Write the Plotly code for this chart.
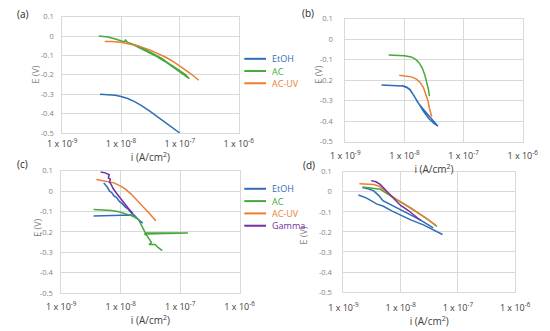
import plotly.graph_objects as go

# ---------------- data ----------------
# Panel (a)
a_etoh_i = [4.4e-9, 6e-9, 8e-9, 1e-8, 1.3e-8, 1.7e-8, 2.2e-8, 3e-8, 4e-8, 5.5e-8, 7e-8, 1e-7]
a_etoh_E = [-0.300, -0.301, -0.305, -0.312, -0.322, -0.338, -0.357, -0.385, -0.413, -0.445, -0.470, -0.500]
a_ac_i = [4.2e-9, 6e-9, 8e-9, 1e-8, 1.15e-8, 1.2e-8, 1.3e-8, 1.5e-8, 2e-8, 3e-8, 4e-8, 5.5e-8, 7e-8, 1e-7, 1.45e-7,
          1.23e-7, 9e-8, 7e-8, 5e-8, 3.5e-8, 2.5e-8, 2e-8, 1.6e-8, 1.3e-8, 1.15e-8, 1.25e-8]
a_ac_E = [0.000, -0.005, -0.015, -0.024, -0.030, -0.022, -0.033, -0.040, -0.058, -0.083, -0.105, -0.130, -0.152, -0.185, -0.220,
          -0.198, -0.172, -0.148, -0.116, -0.088, -0.066, -0.053, -0.043, -0.033, -0.020, -0.028]
a_acuv_i = [5.3e-9, 7e-9, 1e-8, 1.5e-8, 2e-8, 3e-8, 4e-8, 6e-8, 8e-8, 1e-7, 1.5e-7, 2.1e-7]
a_acuv_E = [-0.028, -0.028, -0.032, -0.042, -0.052, -0.070, -0.087, -0.112, -0.135, -0.155, -0.192, -0.228]

# Panel (b)
b_etoh_i = [4.1e-9, 6e-9, 9.1e-9, 1.1e-8, 1.23e-8, 1.45e-8, 1.66e-8, 2e-8, 2.4e-8, 3e-8, 3.7e-8,
            3.2e-8, 2.6e-8, 2.1e-8, 1.7e-8, 1.42e-8, 1.25e-8, 1.08e-8, 9e-9]
b_etoh_E = [-0.223, -0.224, -0.228, -0.236, -0.246, -0.275, -0.306, -0.336, -0.361, -0.395, -0.424,
            -0.412, -0.388, -0.352, -0.310, -0.270, -0.246, -0.233, -0.226]
b_ac_i = [5.4e-9, 7e-9, 1e-8, 1.3e-8, 1.57e-8, 1.8e-8, 2e-8, 2.2e-8, 2.4e-8, 2.55e-8, 2.65e-8]
b_ac_E = [-0.078, -0.079, -0.081, -0.087, -0.100, -0.118, -0.141, -0.172, -0.212, -0.245, -0.278]
b_acuv_i = [8.2e-9, 1e-8, 1.3e-8, 1.6e-8, 1.86e-8, 2.1e-8, 2.3e-8, 2.5e-8, 2.65e-8, 2.9e-8]
b_acuv_E = [-0.176, -0.178, -0.184, -0.195, -0.212, -0.236, -0.266, -0.300, -0.338, -0.377]

# Panel (c)
c_etoh_i = [3.5e-9, 6e-9, 1e-8, 1.5e-8, 1.9e-8, 2.35e-8, 2e-8, 1.7e-8, 1.5e-8, 1.3e-8, 1.2e-8, 1.05e-8,
            9.5e-9, 8.5e-9, 7.8e-9, 7e-9, 6.5e-9, 6e-9, 5.5e-9, 5.2e-9]
c_etoh_E = [-0.122, -0.121, -0.119, -0.117, -0.135, -0.157, -0.140, -0.118, -0.105, -0.085, -0.078, -0.060,
            -0.050, -0.030, -0.025, -0.005, 0.000, 0.018, 0.030, 0.041]
c_ac_i = [3.5e-9, 5e-9, 7e-9, 9.3e-9, 1.2e-8, 1.5e-8, 1.7e-8, 2e-8, 2.2e-8, 2.4e-8, 2.6e-8, 1.35e-7,
          2.5e-8, 2.8e-8, 3e-8, 3.3e-8, 3.0e-8, 3.8e-8, 4.2e-8, 5e-8]
c_ac_E = [-0.090, -0.091, -0.095, -0.101, -0.110, -0.118, -0.125, -0.140, -0.165, -0.185, -0.205, -0.205,
          -0.210, -0.220, -0.235, -0.252, -0.262, -0.262, -0.275, -0.292]
c_acuv_i = [3.9e-9, 5.5e-9, 7.7e-9, 1e-8, 1.2e-8, 1.5e-8, 1.9e-8, 2.46e-8, 3.1e-8, 3.9e-8]
c_acuv_E = [0.057, 0.050, 0.041, 0.025, 0.010, -0.014, -0.045, -0.078, -0.112, -0.145]
c_gamma_i = [4.6e-9, 5.5e-9, 6.4e-9, 6.2e-9, 6.7e-9, 6.5e-9, 6.9e-9, 7.5e-9, 8.7e-9, 1e-8, 1.17e-8, 1.35e-8, 1.6e-8]
c_gamma_E = [0.094, 0.090, 0.081, 0.065, 0.058, 0.045, 0.033, 0.012, -0.014, -0.038, -0.062, -0.085, -0.110]

# Panel (d)
d_etoh_i = [1.83e-9, 2.5e-9, 3.8e-9, 5e-9, 7e-9, 1e-8, 1.5e-8, 2.5e-8, 4e-8, 5.4e-8, None,
            2.15e-9, 2.7e-9, 3.4e-9, 4.2e-9, 4.9e-9, 6.5e-9, 9e-9, 1.4e-8, 2.2e-8, 3.7e-8]
d_etoh_E = [-0.016, -0.030, -0.060, -0.072, -0.095, -0.118, -0.140, -0.165, -0.195, -0.213, None,
            0.021, 0.015, 0.005, -0.020, -0.044, -0.062, -0.085, -0.110, -0.140, -0.180]
d_ac_i = [2.15e-9, 3e-9, 4.4e-9, 5.5e-9, 7.2e-9, 1e-8, 1.5e-8, 2.2e-8, 3e-8, 4.3e-8]
d_ac_E = [0.024, 0.020, 0.013, -0.005, -0.027, -0.050, -0.080, -0.110, -0.138, -0.172]
d_acuv_i = [1.9e-9, 2.6e-9, 3.4e-9, 4.2e-9, 4.9e-9, 6.5e-9, 8.1e-9, 1.2e-8, 1.8e-8, 2.7e-8, 4e-8]
d_acuv_E = [0.040, 0.040, 0.037, 0.028, 0.013, -0.010, -0.035, -0.065, -0.095, -0.128, -0.165]
d_gamma_i = [3.05e-9, 3.7e-9, 4.4e-9, 5e-9, 5.6e-9, 6.8e-9, 8.1e-9, 1e-8, 1.35e-8, 1.8e-8, 2.24e-8]
d_gamma_E = [0.056, 0.050, 0.037, 0.022, 0.005, -0.020, -0.044, -0.068, -0.092, -0.120, -0.143]

legend_ab = ["EtOH", "AC", "AC-UV"]
legend_cd = ["EtOH", "AC", "AC-UV", "Gamma"]
colors = {"EtOH": "#2E6DB8", "AC": "#45A83A", "AC-UV": "#ED7D31", "Gamma": "#7030A0"}

x_tickvals = [1e-9, 1e-8, 1e-7, 1e-6]
x_ticktext = ["1 x 10<sup>-9</sup>", "1 x 10<sup>-8</sup>", "1 x 10<sup>-7</sup>", "1 x 10<sup>-6</sup>"]
y_tickvals = [0.1, 0.0, -0.1, -0.2, -0.3, -0.4, -0.5]
y_ticktext = ["0.1", "0", "-0.1", "-0.2", "-0.3", "-0.4", "-0.5"]
panel_labels = ["(a)", "(b)", "(c)", "(d)"]
x_title = "i (A/cm<sup>2</sup>)"
y_title = "E (V)"

# ---------------- figure ----------------
W, H = 550, 331
FONT = "Open Sans, Liberation Sans, sans-serif"
fig = go.Figure()

panels = [
    ("x", "y", [("EtOH", a_etoh_i, a_etoh_E), ("AC", a_ac_i, a_ac_E), ("AC-UV", a_acuv_i, a_acuv_E)]),
    ("x2", "y2", [("EtOH", b_etoh_i, b_etoh_E), ("AC", b_ac_i, b_ac_E), ("AC-UV", b_acuv_i, b_acuv_E)]),
    ("x3", "y3", [("EtOH", c_etoh_i, c_etoh_E), ("AC", c_ac_i, c_ac_E), ("AC-UV", c_acuv_i, c_acuv_E),
                  ("Gamma", c_gamma_i, c_gamma_E)]),
    ("x4", "y4", [("EtOH", d_etoh_i, d_etoh_E), ("AC", d_ac_i, d_ac_E), ("AC-UV", d_acuv_i, d_acuv_E),
                  ("Gamma", d_gamma_i, d_gamma_E)]),
]

for xa, ya, traces in panels:
    for name, xs, ys in traces:
        fig.add_trace(go.Scatter(
            x=xs, y=ys, mode="lines", name=name, xaxis=xa, yaxis=ya,
            line=dict(color=colors[name], width=1.5),
            connectgaps=False, showlegend=False,
        ))

# pixel domains: (left, right, top, bottom)
px_domains = [(50, 237, 12, 132), (350, 538, 14, 141), (49, 238, 171, 297), (348, 530, 172, 296)]
ytick_standoff = [6, 10, 6, 9]
xtick_standoff = [2, 5, 5, 7]
ytitle_pos = [(22, 72), (322, 72), (23, 230), (306, 238)]

grid = "#D9D9D9"
tickfont = dict(family=FONT, size=7.5, color="#7F7F7F")
xtickfont = dict(family=FONT, size=9, color="#404040")
layout = {}
for k, (l, r, t, b) in enumerate(px_domains):
    sx = "" if k == 0 else str(k + 1)
    layout["xaxis" + sx] = dict(
        type="log", range=[-9, -6], domain=[l / W, r / W], anchor="y" + sx,
        tickvals=x_tickvals, ticktext=x_ticktext, tickfont=xtickfont,
        showgrid=True, gridcolor=grid, gridwidth=1, zeroline=False,
        showline=True, linecolor=grid, mirror=True, ticks="",
        ticklabelstandoff=xtick_standoff[k],
        title=dict(text=x_title, standoff=1,
                   font=dict(family=FONT, size=10, color="#404040")),
    )
    layout["yaxis" + sx] = dict(
        range=[-0.5, 0.1], domain=[1 - b / H, 1 - t / H], anchor="x" + sx,
        tickvals=y_tickvals, ticktext=y_ticktext, tickfont=tickfont,
        showgrid=True, gridcolor=grid, gridwidth=1, zeroline=False,
        showline=True, linecolor=grid, mirror=True, ticks="",
        ticklabelstandoff=ytick_standoff[k],
    )

fig.update_layout(
    width=W, height=H,
    margin=dict(l=0, r=0, t=0, b=0),
    paper_bgcolor="white", plot_bgcolor="white",
    showlegend=False,
    **layout,
)

# y-axis titles (placed like the Excel originals)
for (px, py) in ytitle_pos:
    fig.add_annotation(text=y_title, x=px / W, y=1 - py / H, xref="paper", yref="paper",
                       showarrow=False, textangle=-90, xanchor="center", yanchor="middle",
                       font=dict(family=FONT, size=9, color="#7F7F7F"))

# manual legends (Excel style: coloured text, tight spacing)
legend_blocks = [(legend_ab, 55.5, 12.6), (legend_cd, 189.5, 12.7)]
for names, y0, dy in legend_blocks:
    for j, name in enumerate(names):
        yy = 1 - (y0 + j * dy) / H
        fig.add_shape(type="line", xref="paper", yref="paper",
                      x0=243 / W, x1=266 / W, y0=yy, y1=yy,
                      line=dict(color=colors[name], width=2))
        fig.add_annotation(text=name, x=270 / W, y=yy, xref="paper", yref="paper",
                           showarrow=False, xanchor="left", yanchor="middle",
                           font=dict(family=FONT, size=9, color=colors[name]))

label_pos = [(8, 9), (311, 8), (8, 164), (312, 165)]
for text, (px, py) in zip(panel_labels, label_pos):
    fig.add_annotation(text=text, x=px / W, y=1 - py / H, xref="paper", yref="paper",
                       showarrow=False, xanchor="center", yanchor="middle",
                       font=dict(family=FONT, size=10, color="#262626"))

fig.write_html("out.html", config={"displayModeBar": False},
               post_script="document.body.style.margin='0px';")
